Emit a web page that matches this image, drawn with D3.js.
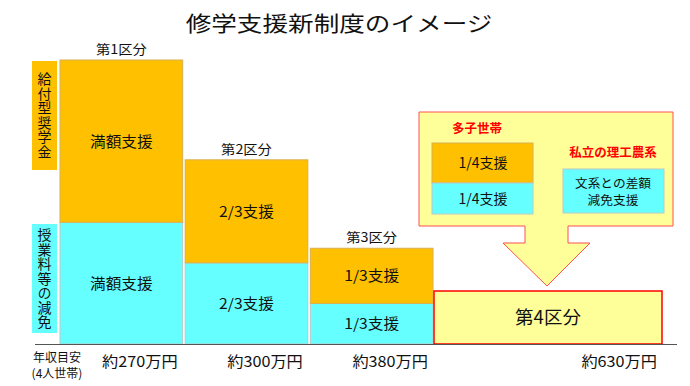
<!DOCTYPE html>
<html>
<head>
<meta charset="utf-8">
<script src="https://cdn.jsdelivr.net/npm/d3@7"></script>
<style>
  body { margin: 0; background: #fff; }
  text { font-family: "Noto Sans CJK JP", "Noto Sans", sans-serif; fill: #111; }
</style>
</head>
<body>
<div id="chart"></div>
<script>
// chart data
var categories = ["第1区分", "第2区分", "第3区分"];
var incomeLabels = ["約270万円", "約300万円", "約380万円", "約630万円"];
// support amounts in relative units
var tuitionValues = [3, 2, 1];
var scholarshipValues = [4, 2.54, 1.36];
var tuitionLabels = ["満額支援", "2/3支援", "1/3支援"];
var scholarshipLabels = ["満額支援", "2/3支援", "1/3支援"];
var seriesNames = ["給付型奨学金", "授業料等の減免"];
var extraCategory = "第4区分";
var extraGroups = ["多子世帯", "私立の理工農系"];
var multiChildLabels = ["1/4支援", "1/4支援"];
var privateLabel = ["文系との差額", "減免支援"];

var svgWidth = 690;
var svgHeight = 386;

var orange = "#FFC000";
var cyan = "#66FFFF";
var paleYellow = "#FFFF99";
var red = "#FF0000";

var svg = d3.select("#chart")
  .append("svg")
  .attr("width", svgWidth)
  .attr("height", svgHeight);

// title (source text is stretched horizontally)
svg.append("text")
  .attr("transform", "translate(339,31) scale(1.22,1)")
  .attr("text-anchor", "middle")
  .attr("font-size", "21px")
  .text("修学支援新制度のイメージ");

var baseY = 344;
var yScale = d3.scaleLinear()
  .domain([0, 7])
  .range([baseY, 60]);

var xScale = d3.scaleBand()
  .domain(categories)
  .range([60, 433])
  .paddingInner(0.02)
  .paddingOuter(0);

var barGroup = svg.append("g");

var stackData = categories.map(function(c, i) {
  return {cat: c, tuition: tuitionValues[i], scholarship: scholarshipValues[i], i: i};
});

// tuition (bottom, cyan)
barGroup.selectAll(".tuition")
  .data(stackData)
  .enter()
  .append("rect")
  .attr("x", d => xScale(d.cat))
  .attr("width", xScale.bandwidth())
  .attr("y", d => yScale(d.tuition))
  .attr("height", d => yScale(0) - yScale(d.tuition))
  .attr("fill", cyan)
  .attr("stroke", "#b8c8c8")
  .attr("stroke-width", 1);

// scholarship (top, orange)
barGroup.selectAll(".scholarship")
  .data(stackData)
  .enter()
  .append("rect")
  .attr("x", d => xScale(d.cat))
  .attr("width", xScale.bandwidth())
  .attr("y", d => yScale(d.tuition + d.scholarship))
  .attr("height", d => yScale(d.tuition) - yScale(d.tuition + d.scholarship))
  .attr("fill", orange)
  .attr("stroke", "#d8b050")
  .attr("stroke-width", 1);

// labels inside bars
barGroup.selectAll(".tlabel")
  .data(stackData)
  .enter()
  .append("text")
  .attr("transform", d => `translate(${xScale(d.cat) + xScale.bandwidth() / 2}, ${(yScale(0) + yScale(d.tuition)) / 2 + 5.5}) scale(1.08,1)`)
  .attr("text-anchor", "middle")
  .attr("font-size", "14.5px")
  .text(d => tuitionLabels[d.i]);

barGroup.selectAll(".slabel")
  .data(stackData)
  .enter()
  .append("text")
  .attr("transform", d => `translate(${xScale(d.cat) + xScale.bandwidth() / 2}, ${(yScale(d.tuition) + yScale(d.tuition + d.scholarship)) / 2 + 5.5}) scale(1.08,1)`)
  .attr("text-anchor", "middle")
  .attr("font-size", "14.5px")
  .text(d => scholarshipLabels[d.i]);

// category labels above bars
barGroup.selectAll(".clabel")
  .data(stackData)
  .enter()
  .append("text")
  .attr("transform", d => `translate(${xScale(d.cat) + xScale.bandwidth() / 2}, ${yScale(d.tuition + d.scholarship) - 6}) scale(1.1,1)`)
  .attr("text-anchor", "middle")
  .attr("font-size", "13px")
  .text(d => d.cat);

// fourth category box
var box4x = 434, box4right = 662;
svg.append("rect")
  .attr("x", box4x)
  .attr("y", 291)
  .attr("width", box4right - box4x)
  .attr("height", baseY - 291)
  .attr("fill", paleYellow)
  .attr("stroke", red)
  .attr("stroke-width", 1.5);

svg.append("text")
  .attr("x", (box4x + box4right) / 2)
  .attr("y", 324)
  .attr("text-anchor", "middle")
  .attr("font-size", "18.5px")
  .text(extraCategory);

// callout with arrow
var callout = "M419,112 L673,112 L673,226 L568,226 L568,243 L590,243 L547,286 L503,243 L525,243 L525,226 L419,226 Z";
svg.append("path")
  .attr("d", callout)
  .attr("fill", paleYellow)
  .attr("stroke", "#ff5050")
  .attr("stroke-width", 1);

svg.append("text")
  .attr("x", 477)
  .attr("y", 133)
  .attr("text-anchor", "middle")
  .attr("font-size", "12.5px")
  .attr("font-weight", "bold")
  .style("fill", red)
  .text(extraGroups[0]);

svg.append("text")
  .attr("x", 613)
  .attr("y", 157)
  .attr("text-anchor", "middle")
  .attr("font-size", "12.5px")
  .attr("font-weight", "bold")
  .style("fill", red)
  .text(extraGroups[1]);

// multi-child mini stack
svg.append("rect")
  .attr("x", 432).attr("y", 143).attr("width", 101).attr("height", 40)
  .attr("fill", orange).attr("stroke", "#d8b050");
svg.append("rect")
  .attr("x", 432).attr("y", 183).attr("width", 101).attr("height", 31)
  .attr("fill", cyan).attr("stroke", "#b8c8c8");
svg.append("text")
  .attr("x", 483).attr("y", 168).attr("text-anchor", "middle")
  .attr("font-size", "14px").text(multiChildLabels[0]);
svg.append("text")
  .attr("x", 483).attr("y", 204).attr("text-anchor", "middle")
  .attr("font-size", "14px").text(multiChildLabels[1]);

// private science box
svg.append("rect")
  .attr("x", 563).attr("y", 169).attr("width", 101).attr("height", 44)
  .attr("fill", cyan).attr("stroke", "#b8c8c8");
var pText = svg.append("text")
  .attr("transform", "translate(613,0) scale(1.06,1)")
  .attr("text-anchor", "middle")
  .attr("font-size", "12px");
pText.selectAll("tspan")
  .data(privateLabel)
  .enter()
  .append("tspan")
  .attr("x", 0)
  .attr("y", (d, i) => 188 + i * 17.5)
  .text(d => d);

// left series labels (vertical text)
var sideBoxes = [
  {name: seriesNames[0], y0: 61, y1: 170, fill: orange},
  {name: seriesNames[1], y0: 224, y1: 333, fill: cyan}
];
sideBoxes.forEach(function(b) {
  svg.append("rect")
    .attr("x", 32).attr("y", b.y0)
    .attr("width", 25).attr("height", b.y1 - b.y0)
    .attr("fill", b.fill);
  svg.append("text")
    .attr("x", 44.5)
    .attr("y", (b.y0 + b.y1) / 2)
    .attr("text-anchor", "middle")
    .style("writing-mode", "vertical-rl")
    .style("letter-spacing", "0.5px")
    .attr("font-size", "14px")
    .text(b.name);
});

// baseline
svg.append("line")
  .attr("x1", 35).attr("x2", 677)
  .attr("y1", baseY + 0.5).attr("y2", baseY + 0.5)
  .attr("stroke", "#555")
  .attr("stroke-width", 1.2);

// income labels
var rightEdges = categories.map(c => xScale(c) + xScale.bandwidth()).concat([box4right]);
svg.selectAll(".inc")
  .data(incomeLabels)
  .enter()
  .append("text")
  .attr("transform", (d, i) => `translate(${rightEdges[i] - 5}, 367) scale(1.08,1)`)
  .attr("text-anchor", "end")
  .attr("font-size", "15px")
  .text(d => d);

svg.append("text")
  .attr("x", 57).attr("y", 362)
  .attr("text-anchor", "middle")
  .attr("font-size", "12px")
  .text("年収目安");
svg.append("text")
  .attr("x", 57).attr("y", 378)
  .attr("text-anchor", "middle")
  .attr("font-size", "12px")
  .text("(4人世帯)");
</script>
</body>
</html>
